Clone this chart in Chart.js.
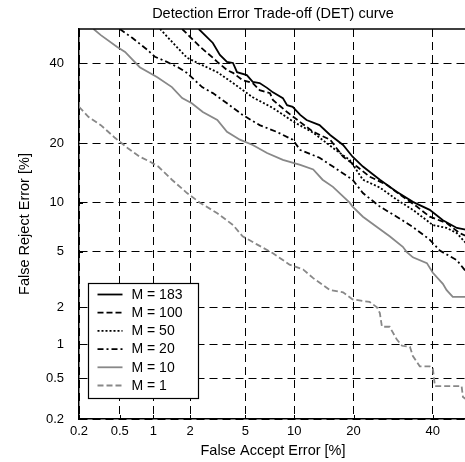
<!DOCTYPE html>
<html>
<head>
<meta charset="utf-8">
<script src="https://cdn.jsdelivr.net/npm/chart.js@4.4.0/dist/chart.umd.min.js"></script>
<style>
  html, body { margin: 0; padding: 0; background: #fff; overflow: hidden; }
  #wrap { width: 470px; height: 462px; }
</style>
</head>
<body>
<div id="wrap"><canvas id="det" width="470" height="462"></canvas></div>
<script>
var TITLE = 'Detection Error Trade-off (DET) curve';
var X_LABEL = 'False Accept Error [%]';
var Y_LABEL = 'False Reject Error [%]';
var TICKS = [0.2, 0.5, 1, 2, 5, 10, 20, 40];
var AXIS_MIN = 0.2, AXIS_MAX = 50;
var SERIES = ['M = 183', 'M = 100', 'M = 50', 'M = 20', 'M = 10', 'M = 1'];

// false accept / false reject pairs in %
var fa183 = [2.33, 2.97, 3.34, 3.75, 4.13, 4.4, 5.12, 5.6, 6.2, 6.9, 7.5, 8.6, 9.1, 9.8, 10.8, 11.7, 13.7, 15.5, 17.9, 19.8, 22.0, 25.9, 30.1, 34.4, 39.1, 42.9, 47.0, 50];
var fr183 = [50, 45.9, 42.4, 40.4, 40.1, 37.5, 36.7, 34.8, 34.5, 33.2, 32.0, 30.5, 28.7, 28.3, 26.3, 25.1, 23.9, 21.7, 19.6, 17.3, 15.5, 13.3, 11.5, 10.1, 9.1, 7.9, 7.1, 6.9];

var fa100 = [1.73, 2.38, 2.97, 3.2, 3.75, 4.13, 4.8, 5.6, 6.2, 7.2, 7.5, 9.1, 10.8, 12.7, 15.5, 17.9, 20.7, 23.5, 27.6, 30.9, 35.5, 39.1, 44.0, 47.8, 50];
var fr100 = [50, 44.8, 41.6, 40.4, 38.1, 37.3, 35.3, 34.5, 32.6, 31.8, 30.0, 27.0, 24.6, 22.4, 20.7, 17.3, 15.5, 13.8, 12.5, 11.1, 9.5, 8.3, 7.6, 6.6, 6.3];

var fa50 = [1.14, 1.46, 1.89, 2.38, 3.2, 4.13, 5.6, 7.5, 9.8, 12.7, 16.0, 19.2, 22.0, 25.9, 30.1, 34.4, 40.0, 44.0, 47.0, 50];
var fr50 = [50, 45.9, 41.6, 39.8, 37.5, 34.5, 30.7, 28.0, 24.8, 22.2, 19.0, 16.7, 13.3, 12.1, 10.4, 9.1, 7.4, 7.1, 6.6, 5.6];

var fa20 = [0.5, 0.65, 0.88, 1.03, 1.30, 1.6, 1.89, 2.47, 2.97, 3.75, 4.8, 6.2, 7.9, 9.8, 10.8, 13.7, 16.0, 19.8, 22.0, 25.9, 30.1, 34.4, 39.1, 42.0, 47.0, 50];
var fr20 = [50, 47.4, 44.0, 41.9, 40.4, 38.9, 37.3, 33.4, 31.8, 29.2, 26.3, 23.9, 22.4, 20.7, 18.6, 17.1, 15.5, 13.3, 11.3, 9.5, 8.3, 7.2, 6.0, 5.1, 4.4, 3.6];

var fa10 = [0.28, 0.33, 0.47, 0.56, 0.76, 1.08, 1.43, 1.73, 2.06, 2.5, 3.2, 3.75, 4.6, 5.6, 6.9, 8.6, 10.8, 12.7, 14.2, 16.0, 19.2, 19.8, 22.0, 25.2, 28.3, 31.7, 32.7, 34.4, 38.3, 40.0, 42.9, 44.0, 45.8, 50];
var fr10 = [50, 48.2, 44.8, 43.3, 38.9, 36.1, 33.4, 30.5, 29.2, 27.0, 25.1, 22.4, 20.7, 19.6, 18.0, 16.7, 15.8, 15.0, 13.3, 12.2, 10.0, 9.5, 8.3, 7.2, 6.3, 5.4, 5.0, 4.6, 4.2, 3.6, 3.0, 2.7, 2.4, 2.4];

var fa1 = [0.2, 0.25, 0.33, 0.45, 0.59, 0.76, 0.93, 1.1, 1.43, 1.89, 2.38, 3.2, 4.13, 4.8, 5.95, 7.5, 9.4, 11.2, 12.7, 15.5, 17.9, 19.8, 23.5, 25.2, 25.9, 26.4, 28.3, 30.1, 31.5, 33.6, 34.4, 36.3, 39.1, 40.0, 40.6, 48.4, 48.8, 50];
var fr1 = [28.3, 25.8, 23.9, 21.1, 19.0, 17.3, 16.4, 15.5, 13.3, 11.3, 10.0, 8.7, 7.4, 6.3, 5.6, 4.9, 4.1, 3.8, 3.3, 2.7, 2.6, 2.3, 2.2, 2.0, 1.8, 1.4, 1.4, 1.1, 0.97, 0.95, 0.79, 0.64, 0.64, 0.61, 0.42, 0.42, 0.33, 0.31];

var FONT = '"Liberation Sans", Arial, Helvetica, sans-serif';

// inverse normal CDF (Acklam)
function probit(p) {
    var a = [-3.969683028665376e+01, 2.209460984245205e+02, -2.759285104469687e+02, 1.383577518672690e+02, -3.066479806614716e+01, 2.506628277459239e+00];
    var b = [-5.447609879822406e+01, 1.615858368580409e+02, -1.556989798598866e+02, 6.680131188771972e+01, -1.328068155288572e+01];
    var c = [-7.784894002430293e-03, -3.223964580411365e-01, -2.400758277161838e+00, -2.549732539343734e+00, 4.374664141464968e+00, 2.938163982698783e+00];
    var d = [7.784695709041462e-03, 3.224671290700398e-01, 2.445134137142996e+00, 3.754408661907416e+00];
    var q, r;
    if (p < 0.02425) {
        q = Math.sqrt(-2 * Math.log(p));
        return (((((c[0]*q+c[1])*q+c[2])*q+c[3])*q+c[4])*q+c[5]) / ((((d[0]*q+d[1])*q+d[2])*q+d[3])*q+1);
    }
    if (p > 1 - 0.02425) {
        q = Math.sqrt(-2 * Math.log(1 - p));
        return -(((((c[0]*q+c[1])*q+c[2])*q+c[3])*q+c[4])*q+c[5]) / ((((d[0]*q+d[1])*q+d[2])*q+d[3])*q+1);
    }
    q = p - 0.5;
    r = q * q;
    return (((((a[0]*r+a[1])*r+a[2])*r+a[3])*r+a[4])*r+a[5])*q / (((((b[0]*r+b[1])*r+b[2])*r+b[3])*r+b[4])*r+1);
}

function normCdf(z) {
    var t = 1 / (1 + 0.3275911 * Math.abs(z) / Math.SQRT2);
    var y = 1 - (((((1.061405429*t - 1.453152027)*t) + 1.421413741)*t - 0.284496736)*t + 0.254829592)*t * Math.exp(-z*z/2);
    return z >= 0 ? (1 + y) / 2 : (1 - y) / 2;
}

// normal deviate scale, values in percent
class ProbitScale extends Chart.LinearScale {
    determineDataLimits() {
        this.min = this.options.min;
        this.max = this.options.max;
    }
    buildTicks() {
        return TICKS.map(function(v) { return {value: v}; });
    }
    getPixelForValue(value) {
        var lo = probit(this.min / 100), hi = probit(this.max / 100);
        return this.getPixelForDecimal((probit(value / 100) - lo) / (hi - lo));
    }
    getValueForPixel(pixel) {
        var lo = probit(this.min / 100), hi = probit(this.max / 100);
        return 100 * normCdf(lo + this.getDecimalForPixel(pixel) * (hi - lo));
    }
}
ProbitScale.id = 'probit';
ProbitScale.defaults = {};
Chart.register(ProbitScale);

function pairs(fa, fr) {
    var out = [];
    for (var i = 0; i < fa.length; i++) {
        out.push({x: fa[i], y: fr[i]});
    }
    return out;
}

var styles = [
    {color: '#000', dash: []},
    {color: '#000', dash: [6, 3]},
    {color: '#000', dash: [2, 2]},
    {color: '#000', dash: [6, 3, 2, 3]},
    {color: '#888', dash: []},
    {color: '#888', dash: [6, 3]}
];
var values = [pairs(fa183, fr183), pairs(fa100, fr100), pairs(fa50, fr50), pairs(fa20, fr20), pairs(fa10, fr10), pairs(fa1, fr1)];

var datasets = SERIES.map(function(name, i) {
    return {
        label: name,
        data: values[i],
        borderColor: styles[i].color,
        borderDash: styles[i].dash,
        borderWidth: 1.8,
        pointRadius: 0,
        fill: false,
        tension: 0
    };
});

// box around the plot and small inner tick marks
var frame = {
    id: 'frame',
    afterDatasetsDraw: function(chart) {
        var ctx = chart.ctx, a = chart.chartArea;
        var top = Math.round(a.top);
        ctx.save();
        ctx.strokeStyle = '#000';
        ctx.lineWidth = 1.5;
        ctx.beginPath();
        ctx.moveTo(a.left, top);
        ctx.lineTo(a.right, top);
        ctx.lineTo(a.right, a.bottom);
        ctx.stroke();
        ctx.lineWidth = 1;
        ctx.beginPath();
        chart.scales.x.ticks.forEach(function(t) {
            var px = Math.round(chart.scales.x.getPixelForValue(t.value)) + 0.5;
            ctx.moveTo(px, a.bottom);
            ctx.lineTo(px, a.bottom - 4);
        });
        chart.scales.y.ticks.forEach(function(t) {
            var py = Math.round(chart.scales.y.getPixelForValue(t.value)) + 0.5;
            ctx.moveTo(a.left, py);
            ctx.lineTo(a.left + 4, py);
        });
        ctx.stroke();
        ctx.restore();
    }
};

// legend box in the lower left of the plot
var legendBox = {
    id: 'legendBox',
    afterDatasetsDraw: function(chart) {
        var ctx = chart.ctx, a = chart.chartArea;
        var w = 110, h = 115;
        var left = Math.round(a.left + 9) + 0.5, top = Math.round(a.bottom - 21 - h) + 0.5;
        ctx.save();
        ctx.fillStyle = '#fff';
        ctx.fillRect(left, top, w, h);
        ctx.strokeStyle = '#000';
        ctx.lineWidth = 1.2;
        ctx.strokeRect(left, top, w, h);
        ctx.font = '14px ' + FONT;
        ctx.textBaseline = 'middle';
        chart.data.datasets.forEach(function(ds, i) {
            var y = top + 11 + i * 18.2;
            ctx.beginPath();
            ctx.setLineDash(ds.borderDash);
            ctx.strokeStyle = ds.borderColor;
            ctx.lineWidth = ds.borderWidth;
            ctx.moveTo(left + 9, y);
            ctx.lineTo(left + 34, y);
            ctx.stroke();
            ctx.setLineDash([]);
            ctx.fillStyle = '#000';
            ctx.fillText(ds.label, left + 43, y + 0.5);
        });
        ctx.restore();
    }
};

function axis(position, label, titlePadding, size) {
    return {
        type: 'probit',
        position: position,
        min: AXIS_MIN,
        max: AXIS_MAX,
        afterFit: function(scale) {
            if (position === 'left') {
                scale.width = size;
            } else {
                scale.height = size;
            }
        },
        ticks: {
            autoSkip: false,
            maxRotation: 0,
            color: '#000',
            padding: position === 'left' ? 15 : 5,
            font: {family: FONT, size: 13},
            callback: function(v) { return String(v); }
        },
        grid: {
            color: '#000',
            lineWidth: 1,
            drawTicks: false
        },
        border: {
            display: true,
            color: '#000',
            width: 1.5,
            dash: [8, 5]
        },
        title: {
            display: true,
            text: label,
            color: '#000',
            font: {family: FONT, size: 14.5},
            padding: titlePadding
        }
    };
}

var chart = new Chart(document.getElementById('det'), {
    type: 'line',
    data: {datasets: datasets},
    options: {
        responsive: false,
        animation: false,
        events: [],
        layout: {padding: {left: 0, right: 3, top: 0, bottom: 0}},
        plugins: {
            legend: {display: false},
            tooltip: {enabled: false},
            title: {
                display: true,
                text: TITLE,
                fullSize: false,
                color: '#000',
                font: {family: FONT, size: 14.5, weight: 'normal'},
                padding: {top: 5, bottom: 6.6}
            }
        },
        scales: {
            x: axis('bottom', X_LABEL, {top: 0, bottom: 2}, 43),
            y: axis('left', Y_LABEL, {top: 16, bottom: 0}, 79)
        }
    },
    plugins: [frame, legendBox]
});
</script>
</body>
</html>
